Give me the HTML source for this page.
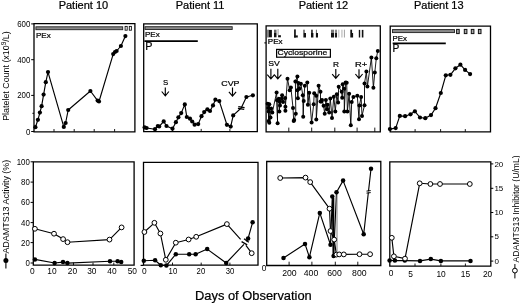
<!DOCTYPE html>
<html><head><meta charset="utf-8"><style>
html,body{margin:0;padding:0;background:#fff;}
svg{display:block;font-family:"Liberation Sans", sans-serif;will-change:transform;filter:blur(0.4px);}
.b{stroke:#000;stroke-width:0.22px;}
</style></head><body>
<svg width="520" height="304" viewBox="0 0 520 304" fill="#000">
<rect width="520" height="304" fill="#fff"/>
<text x="83.4" y="8.6" font-size="11.0" text-anchor="middle" class="b">Patient 10</text>
<text x="200.1" y="8.6" font-size="11.0" text-anchor="middle" class="b">Patient 11</text>
<text x="323.4" y="8.6" font-size="11.0" text-anchor="middle" class="b">Patient 12</text>
<text x="438.8" y="8.6" font-size="11.0" text-anchor="middle" class="b">Patient 13</text>
<path d="M34.0,23.7H134.9V131.8H34.0Z" fill="none" stroke="#000" stroke-width="1.3"/>
<path d="M143.7,23.9H257.3V131.7H143.7Z" fill="none" stroke="#000" stroke-width="1.3"/>
<path d="M266.1,25.8H380.3V131.8H266.1Z" fill="none" stroke="#000" stroke-width="1.3"/>
<path d="M390.2,26.1H490.5V131.9H390.2Z" fill="none" stroke="#000" stroke-width="1.3"/>
<line x1="31.2" y1="23.9" x2="34.0" y2="23.9" stroke="#000" stroke-width="1.0"/>
<text x="30.3" y="26.9" font-size="8.5" text-anchor="end"  textLength="13.11" lengthAdjust="spacingAndGlyphs">600</text>
<line x1="31.2" y1="59.7" x2="34.0" y2="59.7" stroke="#000" stroke-width="1.0"/>
<text x="30.3" y="62.7" font-size="8.5" text-anchor="end"  textLength="13.11" lengthAdjust="spacingAndGlyphs">400</text>
<line x1="31.2" y1="95.4" x2="34.0" y2="95.4" stroke="#000" stroke-width="1.0"/>
<text x="30.3" y="98.4" font-size="8.5" text-anchor="end"  textLength="13.11" lengthAdjust="spacingAndGlyphs">200</text>
<line x1="31.2" y1="131.5" x2="34.0" y2="131.5" stroke="#000" stroke-width="1.0"/>
<text x="30.3" y="134.5" font-size="8.5" text-anchor="end"  textLength="4.37" lengthAdjust="spacingAndGlyphs">0</text>
<line x1="32.4" y1="113.3" x2="34.0" y2="113.3" stroke="#000" stroke-width="1.0"/>
<line x1="54.0" y1="131.8" x2="54.0" y2="129.0" stroke="#000" stroke-width="0.9"/>
<line x1="74.2" y1="131.8" x2="74.2" y2="129.0" stroke="#000" stroke-width="0.9"/>
<line x1="94.2" y1="131.8" x2="94.2" y2="129.0" stroke="#000" stroke-width="0.9"/>
<line x1="114.6" y1="131.8" x2="114.6" y2="129.0" stroke="#000" stroke-width="0.9"/>
<line x1="172.5" y1="131.7" x2="172.5" y2="128.89999999999998" stroke="#000" stroke-width="0.9"/>
<line x1="201.2" y1="131.7" x2="201.2" y2="128.89999999999998" stroke="#000" stroke-width="0.9"/>
<line x1="229.9" y1="131.7" x2="229.9" y2="128.89999999999998" stroke="#000" stroke-width="0.9"/>
<line x1="288.8" y1="131.8" x2="288.8" y2="127.60000000000001" stroke="#000" stroke-width="0.9"/>
<line x1="311.7" y1="131.8" x2="311.7" y2="127.60000000000001" stroke="#000" stroke-width="0.9"/>
<line x1="334.8" y1="131.8" x2="334.8" y2="127.60000000000001" stroke="#000" stroke-width="0.9"/>
<line x1="357.1" y1="131.8" x2="357.1" y2="127.60000000000001" stroke="#000" stroke-width="0.9"/>
<line x1="374.8" y1="131.8" x2="374.8" y2="127.60000000000001" stroke="#000" stroke-width="0.9"/>
<line x1="415.1" y1="131.9" x2="415.1" y2="129.1" stroke="#000" stroke-width="0.9"/>
<line x1="440.6" y1="131.9" x2="440.6" y2="129.1" stroke="#000" stroke-width="0.9"/>
<line x1="465.3" y1="131.9" x2="465.3" y2="129.1" stroke="#000" stroke-width="0.9"/>
<rect x="35.9" y="26.8" width="86.8" height="2.9" fill="#8a8a8a" stroke="#222" stroke-width="0.9"/>
<rect x="125.1" y="26.4" width="2.1" height="3.8" fill="#fff" stroke="#111" stroke-width="0.9"/>
<rect x="129.3" y="26.4" width="2.1" height="3.8" fill="#fff" stroke="#111" stroke-width="0.9"/>
<text x="36.0" y="37.9" font-size="8.0" text-anchor="start" class="b">PEx</text>
<polyline points="35.4,127.2 37.9,119.8 39.9,112.6 41.6,106.2 43.6,94.6 45.8,82.2 48.0,72.1 63.8,126.9 65.6,123.0 68.2,110.0 90.4,91.0 97.6,100.6 99.0,101.5 113.2,54.1 115.0,52.0 116.6,51.0 120.9,46.0 125.4,36.1" fill="none" stroke="#000" stroke-width="1.15" stroke-linejoin="round"/>
<circle cx="35.4" cy="127.2" r="2.1" fill="#000"/>
<circle cx="37.9" cy="119.8" r="2.1" fill="#000"/>
<circle cx="39.9" cy="112.6" r="2.1" fill="#000"/>
<circle cx="41.6" cy="106.2" r="2.1" fill="#000"/>
<circle cx="43.6" cy="94.6" r="2.1" fill="#000"/>
<circle cx="45.8" cy="82.2" r="2.1" fill="#000"/>
<circle cx="48.0" cy="72.1" r="2.1" fill="#000"/>
<circle cx="63.8" cy="126.9" r="2.1" fill="#000"/>
<circle cx="65.6" cy="123.0" r="2.1" fill="#000"/>
<circle cx="68.2" cy="110.0" r="2.1" fill="#000"/>
<circle cx="90.4" cy="91.0" r="2.1" fill="#000"/>
<circle cx="97.6" cy="100.6" r="2.1" fill="#000"/>
<circle cx="99.0" cy="101.5" r="2.1" fill="#000"/>
<circle cx="113.2" cy="54.1" r="2.1" fill="#000"/>
<circle cx="115.0" cy="52.0" r="2.1" fill="#000"/>
<circle cx="116.6" cy="51.0" r="2.1" fill="#000"/>
<circle cx="120.9" cy="46.0" r="2.1" fill="#000"/>
<circle cx="125.4" cy="36.1" r="2.1" fill="#000"/>
<rect x="145.0" y="26.7" width="87.2" height="2.8" fill="#8a8a8a" stroke="#222" stroke-width="0.9"/>
<text x="145.0" y="37.4" font-size="8.0" text-anchor="start" class="b">PEx</text>
<line x1="144.4" y1="41.1" x2="197.8" y2="41.1" stroke="#000" stroke-width="1.6"/>
<text x="145.2" y="49.9" font-size="10.8" text-anchor="start" class="b">P</text>
<polyline points="144.6,127.4 146.6,128.0 155.0,129.2 157.8,126.0 159.2,126.5 163.7,121.4 166.5,126.0 172.5,128.7 175.9,122.2 178.4,117.3 181.2,113.1 184.8,104.4 186.8,117.0 190.0,118.7 192.2,121.5 194.6,124.7 198.2,124.1 201.5,116.2 204.2,112.1 207.4,109.3 210.0,111.0 213.0,105.4 215.4,99.7 219.3,101.1 226.9,124.8 230.7,126.6 233.2,115.4 241.2,108.0 246.4,97.0 252.9,95.3" fill="none" stroke="#000" stroke-width="1.15" stroke-linejoin="round"/>
<circle cx="144.6" cy="127.4" r="2.1" fill="#000"/>
<circle cx="146.6" cy="128.0" r="2.1" fill="#000"/>
<circle cx="155.0" cy="129.2" r="2.1" fill="#000"/>
<circle cx="157.8" cy="126.0" r="2.1" fill="#000"/>
<circle cx="159.2" cy="126.5" r="2.1" fill="#000"/>
<circle cx="163.7" cy="121.4" r="2.1" fill="#000"/>
<circle cx="166.5" cy="126.0" r="2.1" fill="#000"/>
<circle cx="172.5" cy="128.7" r="2.1" fill="#000"/>
<circle cx="175.9" cy="122.2" r="2.1" fill="#000"/>
<circle cx="178.4" cy="117.3" r="2.1" fill="#000"/>
<circle cx="181.2" cy="113.1" r="2.1" fill="#000"/>
<circle cx="184.8" cy="104.4" r="2.1" fill="#000"/>
<circle cx="186.8" cy="117.0" r="2.1" fill="#000"/>
<circle cx="190.0" cy="118.7" r="2.1" fill="#000"/>
<circle cx="192.2" cy="121.5" r="2.1" fill="#000"/>
<circle cx="194.6" cy="124.7" r="2.1" fill="#000"/>
<circle cx="198.2" cy="124.1" r="2.1" fill="#000"/>
<circle cx="201.5" cy="116.2" r="2.1" fill="#000"/>
<circle cx="204.2" cy="112.1" r="2.1" fill="#000"/>
<circle cx="207.4" cy="109.3" r="2.1" fill="#000"/>
<circle cx="210.0" cy="111.0" r="2.1" fill="#000"/>
<circle cx="213.0" cy="105.4" r="2.1" fill="#000"/>
<circle cx="215.4" cy="99.7" r="2.1" fill="#000"/>
<circle cx="219.3" cy="101.1" r="2.1" fill="#000"/>
<circle cx="226.9" cy="124.8" r="2.1" fill="#000"/>
<circle cx="230.7" cy="126.6" r="2.1" fill="#000"/>
<circle cx="233.2" cy="115.4" r="2.1" fill="#000"/>
<circle cx="246.4" cy="97.0" r="2.1" fill="#000"/>
<circle cx="252.9" cy="95.3" r="2.1" fill="#000"/>
<line x1="238.3" y1="106.6" x2="244.6" y2="107.6" stroke="#000" stroke-width="1.1"/>
<line x1="237.9" y1="108.4" x2="244.2" y2="109.4" stroke="#000" stroke-width="1.1"/>
<text x="165.7" y="84.7" font-size="7.8" text-anchor="middle" class="b">S</text>
<path d="M165.3,87.6V95.8M161.70000000000002,91.5L165.3,95.8L168.9,91.5" fill="none" stroke="#000" stroke-width="1.15"/>
<text x="221.3" y="85.7" font-size="7.8" text-anchor="start" class="b" textLength="18.2" lengthAdjust="spacingAndGlyphs">CVP</text>
<path d="M232.5,87.6V96.1M228.9,91.8L232.5,96.1L236.1,91.8" fill="none" stroke="#000" stroke-width="1.15"/>
<rect x="267.1" y="29.7" width="1.8" height="7.8" fill="#777"/>
<rect x="268.9" y="29.9" width="3.0" height="7.4" fill="#111"/>
<rect x="274.0" y="29.7" width="2.5" height="3.3" fill="#666"/>
<rect x="274.0" y="33.0" width="2.5" height="4.3" fill="#111"/>
<rect x="277.4" y="29.0" width="1.4" height="6.2" fill="#bbb"/>
<rect x="278.1" y="35.2" width="2.8" height="2.1" fill="#111"/>
<rect x="294.1" y="29.4" width="1.7" height="8.1" fill="#111"/>
<rect x="294.1" y="35.4" width="3.7" height="2.1" fill="#111"/>
<rect x="303.2" y="29.7" width="1.6" height="3.3" fill="#666"/>
<rect x="303.4" y="33.0" width="2.6" height="4.5" fill="#111"/>
<rect x="311.0" y="29.7" width="1.9" height="3.3" fill="#444"/>
<rect x="311.0" y="33.0" width="2.4" height="4.5" fill="#111"/>
<rect x="315.9" y="29.7" width="1.1" height="3.3" fill="#777"/>
<rect x="315.9" y="33.0" width="2.1" height="4.5" fill="#111"/>
<rect x="331.0" y="29.7" width="3.0" height="3.3" fill="#777"/>
<rect x="331.0" y="33.0" width="3.0" height="4.5" fill="#111"/>
<rect x="334.9" y="29.7" width="2.1" height="3.3" fill="#888"/>
<rect x="334.9" y="33.0" width="2.1" height="4.5" fill="#1a1a1a"/>
<rect x="337.9" y="29.7" width="1.6" height="7.8" fill="#ccc"/>
<rect x="341.1" y="29.7" width="1.6" height="7.8" fill="#ccc"/>
<rect x="343.9" y="29.7" width="1.1" height="7.8" fill="#aaa"/>
<rect x="350.3" y="29.7" width="1.8" height="3.3" fill="#111"/>
<rect x="350.3" y="33.0" width="2.8" height="4.5" fill="#111"/>
<rect x="358.8" y="29.9" width="1.4" height="7.6" fill="#111"/>
<rect x="361.8" y="29.9" width="1.6" height="7.6" fill="#111"/>
<line x1="264.3" y1="42.9" x2="266.1" y2="42.9" stroke="#000" stroke-width="1.0"/>
<text x="267.8" y="43.9" font-size="7.0" text-anchor="start" class="b" textLength="14.8" lengthAdjust="spacingAndGlyphs">PEx</text>
<rect x="276.6" y="49.4" width="53.8" height="7.8" fill="#fff" stroke="#000" stroke-width="1.2"/>
<text x="277.6" y="55.3" font-size="7.6" text-anchor="start" class="b" textLength="49.6" lengthAdjust="spacingAndGlyphs">Cyclosporine</text>
<text x="268.2" y="66.3" font-size="7.8" text-anchor="start" class="b" textLength="11.6" lengthAdjust="spacingAndGlyphs">SV</text>
<path d="M270.9,68.8V78.9M267.29999999999995,74.60000000000001L270.9,78.9L274.5,74.60000000000001" fill="none" stroke="#000" stroke-width="1.15"/>
<path d="M277.8,68.8V78.9M274.2,74.60000000000001L277.8,78.9L281.40000000000003,74.60000000000001" fill="none" stroke="#000" stroke-width="1.15"/>
<text x="333.0" y="66.9" font-size="8.0" text-anchor="start" class="b" textLength="6.0" lengthAdjust="spacingAndGlyphs">R</text>
<path d="M335.8,69.0V78.4M332.2,74.10000000000001L335.8,78.4L339.40000000000003,74.10000000000001" fill="none" stroke="#000" stroke-width="1.15"/>
<text x="355.0" y="66.9" font-size="8.0" text-anchor="start" class="b" textLength="12.2" lengthAdjust="spacingAndGlyphs">R+</text>
<path d="M359.0,69.2V78.3M355.4,74.0L359.0,78.3L362.6,74.0" fill="none" stroke="#000" stroke-width="1.15"/>
<polyline points="267.6,103.7 268.2,107.9 268.7,120.9 268.7,111.4 269.3,104.3 269.3,122.7 270.5,117.4 271.1,108.5 272.3,112.6 276.6,92.5 277.6,123.3 277.0,100.2 278.8,98.7 279.4,111.4 279.4,101.3 280.0,105.5 281.8,98.4 282.1,95.2 283.0,101.9 285.2,97.9 285.4,110.8 285.4,106.7 287.5,78.7 289.7,90.3 290.9,87.6 293.0,107.9 293.7,120.9 294.2,120.0 295.8,113.7 295.4,81.4 297.4,76.4 297.4,90.3 297.9,98.2 298.4,82.9 299.4,88.8 300.9,83.8 302.8,95.2 303.2,116.8 303.7,101.0 304.8,85.8 307.3,82.4 307.9,104.7 309.2,92.7 311.6,122.6 313.7,104.2 314.2,93.2 316.2,95.7 316.3,119.5 318.6,85.8 320.5,91.7 320.5,101.6 321.4,101.4 322.0,100.1 323.6,105.8 324.7,113.7 325.9,100.1 327.0,109.2 327.5,104.7 329.2,112.5 330.3,98.5 332.0,118.1 333.8,96.7 335.3,111.4 336.8,94.2 338.1,102.5 338.7,86.8 341.7,91.7 342.2,97.7 342.7,84.3 344.2,88.8 344.3,111.4 345.6,82.4 346.7,82.7 347.4,111.6 349.1,93.7 350.8,125.3 351.7,101.9 353.4,97.1 357.3,95.7 359.0,119.3 359.4,105.6 361.1,97.1 362.0,115.9 364.5,105.3 364.5,83.4 366.4,71.6 367.4,86.4 371.4,57.6 373.4,87.7 374.8,72.4 376.3,58.3 377.8,50.9" fill="none" stroke="#000" stroke-width="0.9" stroke-linejoin="round"/>
<circle cx="267.6" cy="103.7" r="2.0" fill="#000"/>
<circle cx="268.2" cy="107.9" r="2.0" fill="#000"/>
<circle cx="268.7" cy="120.9" r="2.0" fill="#000"/>
<circle cx="268.7" cy="111.4" r="2.0" fill="#000"/>
<circle cx="269.3" cy="104.3" r="2.0" fill="#000"/>
<circle cx="269.3" cy="122.7" r="2.0" fill="#000"/>
<circle cx="270.5" cy="117.4" r="2.0" fill="#000"/>
<circle cx="271.1" cy="108.5" r="2.0" fill="#000"/>
<circle cx="272.3" cy="112.6" r="2.0" fill="#000"/>
<circle cx="276.6" cy="92.5" r="2.0" fill="#000"/>
<circle cx="277.6" cy="123.3" r="2.0" fill="#000"/>
<circle cx="277.0" cy="100.2" r="2.0" fill="#000"/>
<circle cx="278.8" cy="98.7" r="2.0" fill="#000"/>
<circle cx="279.4" cy="111.4" r="2.0" fill="#000"/>
<circle cx="279.4" cy="101.3" r="2.0" fill="#000"/>
<circle cx="280.0" cy="105.5" r="2.0" fill="#000"/>
<circle cx="281.8" cy="98.4" r="2.0" fill="#000"/>
<circle cx="282.1" cy="95.2" r="2.0" fill="#000"/>
<circle cx="283.0" cy="101.9" r="2.0" fill="#000"/>
<circle cx="285.2" cy="97.9" r="2.0" fill="#000"/>
<circle cx="285.4" cy="110.8" r="2.0" fill="#000"/>
<circle cx="285.4" cy="106.7" r="2.0" fill="#000"/>
<circle cx="287.5" cy="78.7" r="2.0" fill="#000"/>
<circle cx="289.7" cy="90.3" r="2.0" fill="#000"/>
<circle cx="290.9" cy="87.6" r="2.0" fill="#000"/>
<circle cx="293.0" cy="107.9" r="2.0" fill="#000"/>
<circle cx="293.7" cy="120.9" r="2.0" fill="#000"/>
<circle cx="294.2" cy="120.0" r="2.0" fill="#000"/>
<circle cx="295.8" cy="113.7" r="2.0" fill="#000"/>
<circle cx="295.4" cy="81.4" r="2.0" fill="#000"/>
<circle cx="297.4" cy="76.4" r="2.0" fill="#000"/>
<circle cx="297.4" cy="90.3" r="2.0" fill="#000"/>
<circle cx="297.9" cy="98.2" r="2.0" fill="#000"/>
<circle cx="298.4" cy="82.9" r="2.0" fill="#000"/>
<circle cx="299.4" cy="88.8" r="2.0" fill="#000"/>
<circle cx="300.9" cy="83.8" r="2.0" fill="#000"/>
<circle cx="302.8" cy="95.2" r="2.0" fill="#000"/>
<circle cx="303.2" cy="116.8" r="2.0" fill="#000"/>
<circle cx="303.7" cy="101.0" r="2.0" fill="#000"/>
<circle cx="304.8" cy="85.8" r="2.0" fill="#000"/>
<circle cx="307.3" cy="82.4" r="2.0" fill="#000"/>
<circle cx="307.9" cy="104.7" r="2.0" fill="#000"/>
<circle cx="309.2" cy="92.7" r="2.0" fill="#000"/>
<circle cx="311.6" cy="122.6" r="2.0" fill="#000"/>
<circle cx="313.7" cy="104.2" r="2.0" fill="#000"/>
<circle cx="314.2" cy="93.2" r="2.0" fill="#000"/>
<circle cx="316.2" cy="95.7" r="2.0" fill="#000"/>
<circle cx="316.3" cy="119.5" r="2.0" fill="#000"/>
<circle cx="318.6" cy="85.8" r="2.0" fill="#000"/>
<circle cx="320.5" cy="91.7" r="2.0" fill="#000"/>
<circle cx="320.5" cy="101.6" r="2.0" fill="#000"/>
<circle cx="321.4" cy="101.4" r="2.0" fill="#000"/>
<circle cx="322.0" cy="100.1" r="2.0" fill="#000"/>
<circle cx="323.6" cy="105.8" r="2.0" fill="#000"/>
<circle cx="324.7" cy="113.7" r="2.0" fill="#000"/>
<circle cx="325.9" cy="100.1" r="2.0" fill="#000"/>
<circle cx="327.0" cy="109.2" r="2.0" fill="#000"/>
<circle cx="327.5" cy="104.7" r="2.0" fill="#000"/>
<circle cx="329.2" cy="112.5" r="2.0" fill="#000"/>
<circle cx="330.3" cy="98.5" r="2.0" fill="#000"/>
<circle cx="332.0" cy="118.1" r="2.0" fill="#000"/>
<circle cx="333.8" cy="96.7" r="2.0" fill="#000"/>
<circle cx="335.3" cy="111.4" r="2.0" fill="#000"/>
<circle cx="336.8" cy="94.2" r="2.0" fill="#000"/>
<circle cx="338.1" cy="102.5" r="2.0" fill="#000"/>
<circle cx="338.7" cy="86.8" r="2.0" fill="#000"/>
<circle cx="341.7" cy="91.7" r="2.0" fill="#000"/>
<circle cx="342.2" cy="97.7" r="2.0" fill="#000"/>
<circle cx="342.7" cy="84.3" r="2.0" fill="#000"/>
<circle cx="344.2" cy="88.8" r="2.0" fill="#000"/>
<circle cx="344.3" cy="111.4" r="2.0" fill="#000"/>
<circle cx="345.6" cy="82.4" r="2.0" fill="#000"/>
<circle cx="346.7" cy="82.7" r="2.0" fill="#000"/>
<circle cx="347.4" cy="111.6" r="2.0" fill="#000"/>
<circle cx="349.1" cy="93.7" r="2.0" fill="#000"/>
<circle cx="350.8" cy="125.3" r="2.0" fill="#000"/>
<circle cx="351.7" cy="101.9" r="2.0" fill="#000"/>
<circle cx="353.4" cy="97.1" r="2.0" fill="#000"/>
<circle cx="357.3" cy="95.7" r="2.0" fill="#000"/>
<circle cx="359.0" cy="119.3" r="2.0" fill="#000"/>
<circle cx="359.4" cy="105.6" r="2.0" fill="#000"/>
<circle cx="361.1" cy="97.1" r="2.0" fill="#000"/>
<circle cx="362.0" cy="115.9" r="2.0" fill="#000"/>
<circle cx="364.5" cy="105.3" r="2.0" fill="#000"/>
<circle cx="364.5" cy="83.4" r="2.0" fill="#000"/>
<circle cx="366.4" cy="71.6" r="2.0" fill="#000"/>
<circle cx="367.4" cy="86.4" r="2.0" fill="#000"/>
<circle cx="371.4" cy="57.6" r="2.0" fill="#000"/>
<circle cx="373.4" cy="87.7" r="2.0" fill="#000"/>
<circle cx="374.8" cy="72.4" r="2.0" fill="#000"/>
<circle cx="376.3" cy="58.3" r="2.0" fill="#000"/>
<circle cx="377.8" cy="50.9" r="2.0" fill="#000"/>
<rect x="392.5" y="29.6" width="62.0" height="3.0" fill="#8a8a8a" stroke="#222" stroke-width="0.9"/>
<rect x="456.6" y="29.4" width="2.6" height="4.2" fill="#aaa" stroke="#111" stroke-width="1.0"/>
<rect x="464.3" y="29.4" width="2.6" height="4.2" fill="#aaa" stroke="#111" stroke-width="1.0"/>
<rect x="471.3" y="29.4" width="2.6" height="4.2" fill="#aaa" stroke="#111" stroke-width="1.0"/>
<rect x="478.4" y="29.4" width="2.6" height="4.2" fill="#aaa" stroke="#111" stroke-width="1.0"/>
<text x="392.6" y="41.0" font-size="7.9" text-anchor="start" class="b">PEx</text>
<line x1="392.7" y1="43.3" x2="445.8" y2="43.3" stroke="#000" stroke-width="1.7"/>
<text x="392.6" y="52.3" font-size="10.2" text-anchor="start" class="b">P</text>
<polyline points="389.9,129.1 395.7,128.1 399.8,115.9 405.1,116.2 410.5,114.3 414.9,111.3 420.0,117.5 425.3,118.2 431.0,115.1 435.5,108.2 440.8,93.0 445.8,75.3 450.4,74.8 455.4,68.3 460.4,64.7 465.1,69.9 470.1,74.1" fill="none" stroke="#000" stroke-width="1.15" stroke-linejoin="round"/>
<circle cx="389.9" cy="129.1" r="2.1" fill="#000"/>
<circle cx="395.7" cy="128.1" r="2.1" fill="#000"/>
<circle cx="399.8" cy="115.9" r="2.1" fill="#000"/>
<circle cx="405.1" cy="116.2" r="2.1" fill="#000"/>
<circle cx="410.5" cy="114.3" r="2.1" fill="#000"/>
<circle cx="414.9" cy="111.3" r="2.1" fill="#000"/>
<circle cx="420.0" cy="117.5" r="2.1" fill="#000"/>
<circle cx="425.3" cy="118.2" r="2.1" fill="#000"/>
<circle cx="431.0" cy="115.1" r="2.1" fill="#000"/>
<circle cx="435.5" cy="108.2" r="2.1" fill="#000"/>
<circle cx="440.8" cy="93.0" r="2.1" fill="#000"/>
<circle cx="445.8" cy="75.3" r="2.1" fill="#000"/>
<circle cx="450.4" cy="74.8" r="2.1" fill="#000"/>
<circle cx="455.4" cy="68.3" r="2.1" fill="#000"/>
<circle cx="460.4" cy="64.7" r="2.1" fill="#000"/>
<circle cx="465.1" cy="69.9" r="2.1" fill="#000"/>
<circle cx="470.1" cy="74.1" r="2.1" fill="#000"/>
<path d="M33.3,161.8H134.1V265.2H33.3Z" fill="none" stroke="#000" stroke-width="1.3"/>
<path d="M143.5,162.3H258.0V265.2H143.5Z" fill="none" stroke="#000" stroke-width="1.3"/>
<line x1="140.6" y1="265.4" x2="143.5" y2="265.4" stroke="#000" stroke-width="1.2"/>
<path d="M266.7,161.5H380.8V265.5H266.7Z" fill="none" stroke="#000" stroke-width="1.3"/>
<path d="M389.8,161.8H490.8V266.1H389.8Z" fill="none" stroke="#000" stroke-width="1.3"/>
<line x1="30.6" y1="161.8" x2="33.3" y2="161.8" stroke="#000" stroke-width="1.0"/>
<text x="29.8" y="164.8" font-size="8.5" text-anchor="end"  textLength="13.11" lengthAdjust="spacingAndGlyphs">100</text>
<line x1="30.6" y1="182.1" x2="33.3" y2="182.1" stroke="#000" stroke-width="1.0"/>
<text x="29.8" y="185.1" font-size="8.5" text-anchor="end"  textLength="8.74" lengthAdjust="spacingAndGlyphs">80</text>
<line x1="30.6" y1="202.4" x2="33.3" y2="202.4" stroke="#000" stroke-width="1.0"/>
<text x="29.8" y="205.4" font-size="8.5" text-anchor="end"  textLength="8.74" lengthAdjust="spacingAndGlyphs">60</text>
<line x1="30.6" y1="222.6" x2="33.3" y2="222.6" stroke="#000" stroke-width="1.0"/>
<text x="29.8" y="225.6" font-size="8.5" text-anchor="end"  textLength="8.74" lengthAdjust="spacingAndGlyphs">40</text>
<line x1="30.6" y1="242.6" x2="33.3" y2="242.6" stroke="#000" stroke-width="1.0"/>
<text x="29.8" y="245.6" font-size="8.5" text-anchor="end"  textLength="8.74" lengthAdjust="spacingAndGlyphs">20</text>
<line x1="30.6" y1="263.0" x2="33.3" y2="263.0" stroke="#000" stroke-width="1.0"/>
<text x="29.8" y="266.0" font-size="8.5" text-anchor="end"  textLength="4.37" lengthAdjust="spacingAndGlyphs">0</text>
<line x1="490.8" y1="163.9" x2="493.3" y2="163.9" stroke="#000" stroke-width="1.0"/>
<text x="494.4" y="166.5" font-size="8.0" text-anchor="start" >20</text>
<line x1="490.8" y1="188.3" x2="493.3" y2="188.3" stroke="#000" stroke-width="1.0"/>
<text x="494.4" y="190.9" font-size="8.0" text-anchor="start" >15</text>
<line x1="490.8" y1="212.5" x2="493.3" y2="212.5" stroke="#000" stroke-width="1.0"/>
<text x="494.4" y="215.1" font-size="8.0" text-anchor="start" >10</text>
<line x1="490.8" y1="236.8" x2="493.3" y2="236.8" stroke="#000" stroke-width="1.0"/>
<text x="494.4" y="239.4" font-size="8.0" text-anchor="start" >5</text>
<line x1="490.8" y1="261.1" x2="493.3" y2="261.1" stroke="#000" stroke-width="1.0"/>
<text x="494.4" y="263.70000000000005" font-size="8.0" text-anchor="start" >0</text>
<text x="32.4" y="274.2" font-size="8.4" text-anchor="middle" >0</text>
<text x="52.0" y="274.2" font-size="8.4" text-anchor="middle" >10</text>
<text x="72.5" y="274.2" font-size="8.4" text-anchor="middle" >20</text>
<text x="91.8" y="274.2" font-size="8.4" text-anchor="middle" >30</text>
<text x="112.0" y="274.2" font-size="8.4" text-anchor="middle" >40</text>
<text x="132.3" y="274.2" font-size="8.4" text-anchor="middle" >50</text>
<text x="144.3" y="274.3" font-size="8.4" text-anchor="middle" >0</text>
<text x="172.9" y="274.3" font-size="8.4" text-anchor="middle"  textLength="8.6" lengthAdjust="spacingAndGlyphs">10</text>
<text x="200.9" y="274.3" font-size="8.4" text-anchor="middle"  textLength="8.6" lengthAdjust="spacingAndGlyphs">20</text>
<text x="230.0" y="274.3" font-size="8.4" text-anchor="middle"  textLength="8.6" lengthAdjust="spacingAndGlyphs">30</text>
<text x="289.4" y="275.7" font-size="8.7" text-anchor="middle" >200</text>
<text x="311.0" y="275.7" font-size="8.7" text-anchor="middle" >400</text>
<text x="334.5" y="275.7" font-size="8.7" text-anchor="middle" >600</text>
<text x="359.3" y="275.7" font-size="8.7" text-anchor="middle" >800</text>
<text x="264.2" y="270.5" font-size="8.4" text-anchor="middle" >0</text>
<text x="391.2" y="276.3" font-size="8.4" text-anchor="middle" >0</text>
<text x="410.5" y="277.2" font-size="8.4" text-anchor="middle" >5</text>
<text x="441.1" y="276.8" font-size="8.4" text-anchor="middle" >10</text>
<text x="465.5" y="276.7" font-size="8.4" text-anchor="middle" >15</text>
<text x="487.6" y="276.5" font-size="8.4" text-anchor="middle" >20</text>
<line x1="54.0" y1="265.2" x2="54.0" y2="262.59999999999997" stroke="#000" stroke-width="0.9"/>
<line x1="73.5" y1="265.2" x2="73.5" y2="262.59999999999997" stroke="#000" stroke-width="0.9"/>
<line x1="93.0" y1="265.2" x2="93.0" y2="262.59999999999997" stroke="#000" stroke-width="0.9"/>
<line x1="113.8" y1="265.2" x2="113.8" y2="262.59999999999997" stroke="#000" stroke-width="0.9"/>
<line x1="172.5" y1="265.2" x2="172.5" y2="262.59999999999997" stroke="#000" stroke-width="0.9"/>
<line x1="201.2" y1="265.2" x2="201.2" y2="262.59999999999997" stroke="#000" stroke-width="0.9"/>
<line x1="229.9" y1="265.2" x2="229.9" y2="262.59999999999997" stroke="#000" stroke-width="0.9"/>
<line x1="289.1" y1="265.5" x2="289.1" y2="261.7" stroke="#000" stroke-width="0.9"/>
<line x1="311.9" y1="265.5" x2="311.9" y2="261.7" stroke="#000" stroke-width="0.9"/>
<line x1="335.3" y1="265.5" x2="335.3" y2="261.7" stroke="#000" stroke-width="0.9"/>
<line x1="357.8" y1="265.5" x2="357.8" y2="261.7" stroke="#000" stroke-width="0.9"/>
<line x1="415.0" y1="266.1" x2="415.0" y2="263.5" stroke="#000" stroke-width="0.9"/>
<line x1="440.9" y1="266.1" x2="440.9" y2="263.5" stroke="#000" stroke-width="0.9"/>
<line x1="465.4" y1="266.1" x2="465.4" y2="263.5" stroke="#000" stroke-width="0.9"/>
<polyline points="34.9,259.4 54.6,263.0 63.0,262.1 67.4,263.1 110.0,261.2 117.6,261.2 121.2,262.1" fill="none" stroke="#000" stroke-width="1.15" stroke-linejoin="round"/>
<polyline points="34.9,228.8 54.0,233.7 63.1,239.1 67.5,242.2 109.5,239.6 121.6,227.4" fill="none" stroke="#000" stroke-width="1.15" stroke-linejoin="round"/>
<circle cx="34.9" cy="259.4" r="2.25" fill="#000"/>
<circle cx="54.6" cy="263.0" r="2.25" fill="#000"/>
<circle cx="63.0" cy="262.1" r="2.25" fill="#000"/>
<circle cx="67.4" cy="263.1" r="2.25" fill="#000"/>
<circle cx="110.0" cy="261.2" r="2.25" fill="#000"/>
<circle cx="117.6" cy="261.2" r="2.25" fill="#000"/>
<circle cx="121.2" cy="262.1" r="2.25" fill="#000"/>
<circle cx="34.9" cy="228.8" r="2.4" fill="#fff" stroke="#000" stroke-width="1.0"/>
<circle cx="54.0" cy="233.7" r="2.4" fill="#fff" stroke="#000" stroke-width="1.0"/>
<circle cx="63.1" cy="239.1" r="2.4" fill="#fff" stroke="#000" stroke-width="1.0"/>
<circle cx="67.5" cy="242.2" r="2.4" fill="#fff" stroke="#000" stroke-width="1.0"/>
<circle cx="109.5" cy="239.6" r="2.4" fill="#fff" stroke="#000" stroke-width="1.0"/>
<circle cx="121.6" cy="227.4" r="2.4" fill="#fff" stroke="#000" stroke-width="1.0"/>
<polyline points="143.8,260.8 155.1,260.2 160.8,265.2 166.4,265.6 175.8,254.2 189.2,254.2 195.6,254.3 207.2,249.1 226.2,263.0 243.9,244.4" fill="none" stroke="#000" stroke-width="1.15" stroke-linejoin="round"/>
<polyline points="246.6,241.6 248.1,238.4 252.6,222.3" fill="none" stroke="#000" stroke-width="1.15" stroke-linejoin="round"/>
<polyline points="144.4,232.0 154.4,222.8 160.4,233.5 165.8,259.8 175.8,242.7 188.6,239.5 196.2,236.8 226.9,224.1 240.6,239.4" fill="none" stroke="#000" stroke-width="1.15" stroke-linejoin="round"/>
<polyline points="245.9,245.4 251.7,253.2" fill="none" stroke="#000" stroke-width="1.15" stroke-linejoin="round"/>
<line x1="244.0" y1="238.7" x2="248.8" y2="242.3" stroke="#000" stroke-width="1.3"/>
<line x1="241.6" y1="241.6" x2="247.2" y2="244.9" stroke="#000" stroke-width="1.3"/>
<circle cx="143.8" cy="260.8" r="2.25" fill="#000"/>
<circle cx="155.1" cy="260.2" r="2.25" fill="#000"/>
<circle cx="160.8" cy="265.2" r="2.25" fill="#000"/>
<circle cx="166.4" cy="265.6" r="2.25" fill="#000"/>
<circle cx="175.8" cy="254.2" r="2.25" fill="#000"/>
<circle cx="189.2" cy="254.2" r="2.25" fill="#000"/>
<circle cx="195.6" cy="254.3" r="2.25" fill="#000"/>
<circle cx="207.2" cy="249.1" r="2.25" fill="#000"/>
<circle cx="226.2" cy="263.0" r="2.25" fill="#000"/>
<circle cx="248.1" cy="238.4" r="2.25" fill="#000"/>
<circle cx="252.6" cy="222.3" r="2.25" fill="#000"/>
<circle cx="144.4" cy="232.0" r="2.4" fill="#fff" stroke="#000" stroke-width="1.0"/>
<circle cx="154.4" cy="222.8" r="2.4" fill="#fff" stroke="#000" stroke-width="1.0"/>
<circle cx="160.4" cy="233.5" r="2.4" fill="#fff" stroke="#000" stroke-width="1.0"/>
<circle cx="165.8" cy="259.8" r="2.4" fill="#fff" stroke="#000" stroke-width="1.0"/>
<circle cx="175.8" cy="242.7" r="2.4" fill="#fff" stroke="#000" stroke-width="1.0"/>
<circle cx="188.6" cy="239.5" r="2.4" fill="#fff" stroke="#000" stroke-width="1.0"/>
<circle cx="196.2" cy="236.8" r="2.4" fill="#fff" stroke="#000" stroke-width="1.0"/>
<circle cx="226.9" cy="224.1" r="2.4" fill="#fff" stroke="#000" stroke-width="1.0"/>
<circle cx="251.7" cy="253.2" r="2.4" fill="#fff" stroke="#000" stroke-width="1.0"/>
<polyline points="283.5,258.0 305.0,243.9 309.4,257.2 319.8,212.9 330.5,244.8 332.3,196.6 333.6,256.0 336.5,192.2 343.1,180.6 363.7,234.2 371.0,168.7" fill="none" stroke="#000" stroke-width="1.15" stroke-linejoin="round"/>
<polyline points="280.2,178.0 305.5,177.6 310.2,182.1 329.5,208.7 330.5,231.0 334.2,239.6 336.4,254.6 339.2,254.4 343.8,254.4 359.5,254.2 370.1,254.2" fill="none" stroke="#000" stroke-width="1.15" stroke-linejoin="round"/>
<line x1="333.4" y1="198" x2="333.4" y2="255" stroke="#000" stroke-width="1.8"/>
<line x1="337.0" y1="193" x2="337.0" y2="255" stroke="#777" stroke-width="0.9"/>
<circle cx="283.5" cy="258.0" r="2.25" fill="#000"/>
<circle cx="305.0" cy="243.9" r="2.25" fill="#000"/>
<circle cx="309.4" cy="257.2" r="2.25" fill="#000"/>
<circle cx="319.8" cy="212.9" r="2.25" fill="#000"/>
<circle cx="330.5" cy="244.8" r="2.25" fill="#000"/>
<circle cx="332.3" cy="196.6" r="2.25" fill="#000"/>
<circle cx="333.6" cy="256.0" r="2.25" fill="#000"/>
<circle cx="336.5" cy="192.2" r="2.25" fill="#000"/>
<circle cx="343.1" cy="180.6" r="2.25" fill="#000"/>
<circle cx="363.7" cy="234.2" r="2.25" fill="#000"/>
<circle cx="371.0" cy="168.7" r="2.25" fill="#000"/>
<circle cx="280.2" cy="178.0" r="2.4" fill="#fff" stroke="#000" stroke-width="1.0"/>
<circle cx="305.5" cy="177.6" r="2.4" fill="#fff" stroke="#000" stroke-width="1.0"/>
<circle cx="310.2" cy="182.1" r="2.4" fill="#fff" stroke="#000" stroke-width="1.0"/>
<circle cx="329.5" cy="208.7" r="2.4" fill="#fff" stroke="#000" stroke-width="1.0"/>
<circle cx="330.5" cy="231.0" r="2.4" fill="#fff" stroke="#000" stroke-width="1.0"/>
<circle cx="334.2" cy="239.6" r="2.4" fill="#fff" stroke="#000" stroke-width="1.0"/>
<circle cx="336.4" cy="254.6" r="2.4" fill="#fff" stroke="#000" stroke-width="1.0"/>
<circle cx="339.2" cy="254.4" r="2.4" fill="#fff" stroke="#000" stroke-width="1.0"/>
<circle cx="343.8" cy="254.4" r="2.4" fill="#fff" stroke="#000" stroke-width="1.0"/>
<circle cx="359.5" cy="254.2" r="2.4" fill="#fff" stroke="#000" stroke-width="1.0"/>
<circle cx="370.1" cy="254.2" r="2.4" fill="#fff" stroke="#000" stroke-width="1.0"/>
<polygon points="366.4,191.5 370.8,191.0 370.8,192.2 366.4,192.7" fill="#fff"/>
<line x1="366.5" y1="191.1" x2="370.7" y2="190.6" stroke="#000" stroke-width="1.0"/>
<line x1="366.5" y1="193.1" x2="370.7" y2="192.6" stroke="#000" stroke-width="1.0"/>
<polyline points="389.6,260.4 394.9,260.6 404.8,260.6 420.0,260.9 430.8,259.1 440.9,260.9 470.5,260.9" fill="none" stroke="#000" stroke-width="1.15" stroke-linejoin="round"/>
<polyline points="391.8,237.8 393.9,256.3 405.0,258.6 419.7,183.3 430.4,184.0 440.0,184.0 469.8,184.0" fill="none" stroke="#000" stroke-width="1.15" stroke-linejoin="round"/>
<circle cx="389.6" cy="260.4" r="2.25" fill="#000"/>
<circle cx="394.9" cy="260.6" r="2.25" fill="#000"/>
<circle cx="404.8" cy="260.6" r="2.25" fill="#000"/>
<circle cx="420.0" cy="260.9" r="2.25" fill="#000"/>
<circle cx="430.8" cy="259.1" r="2.25" fill="#000"/>
<circle cx="440.9" cy="260.9" r="2.25" fill="#000"/>
<circle cx="470.5" cy="260.9" r="2.25" fill="#000"/>
<circle cx="391.8" cy="237.8" r="2.4" fill="#fff" stroke="#000" stroke-width="1.0"/>
<circle cx="393.9" cy="256.3" r="2.4" fill="#fff" stroke="#000" stroke-width="1.0"/>
<circle cx="405.0" cy="258.6" r="2.4" fill="#fff" stroke="#000" stroke-width="1.0"/>
<circle cx="419.7" cy="183.3" r="2.4" fill="#fff" stroke="#000" stroke-width="1.0"/>
<circle cx="430.4" cy="184.0" r="2.4" fill="#fff" stroke="#000" stroke-width="1.0"/>
<circle cx="440.0" cy="184.0" r="2.4" fill="#fff" stroke="#000" stroke-width="1.0"/>
<circle cx="469.8" cy="184.0" r="2.4" fill="#fff" stroke="#000" stroke-width="1.0"/>
<text transform="translate(8.9,120.8) rotate(-90)" font-size="8.9">Platelet Count (x10<tspan dy="-3.2" font-size="6.6">9</tspan><tspan dy="3.2">/L)</tspan></text>
<text transform="translate(9.0,253.6) rotate(-90)" font-size="8.95">ADAMTS13 Activity (%)</text>
<line x1="5.9" y1="253.6" x2="5.9" y2="268.4" stroke="#000" stroke-width="1.1"/>
<circle cx="5.9" cy="260.4" r="2.5" fill="#000"/>
<text transform="translate(518.6,262.4) rotate(-90)" font-size="8.6">ADAMTS13 Inhibitor (U/mL)</text>
<line x1="514.9" y1="264.0" x2="514.9" y2="278.4" stroke="#000" stroke-width="1.0"/>
<circle cx="514.9" cy="270.6" r="2.4" fill="#fff" stroke="#000" stroke-width="1.0"/>
<text x="253.4" y="300.3" font-size="12.9" text-anchor="middle" class="b">Days of Observation</text>
</svg>
</body></html>
